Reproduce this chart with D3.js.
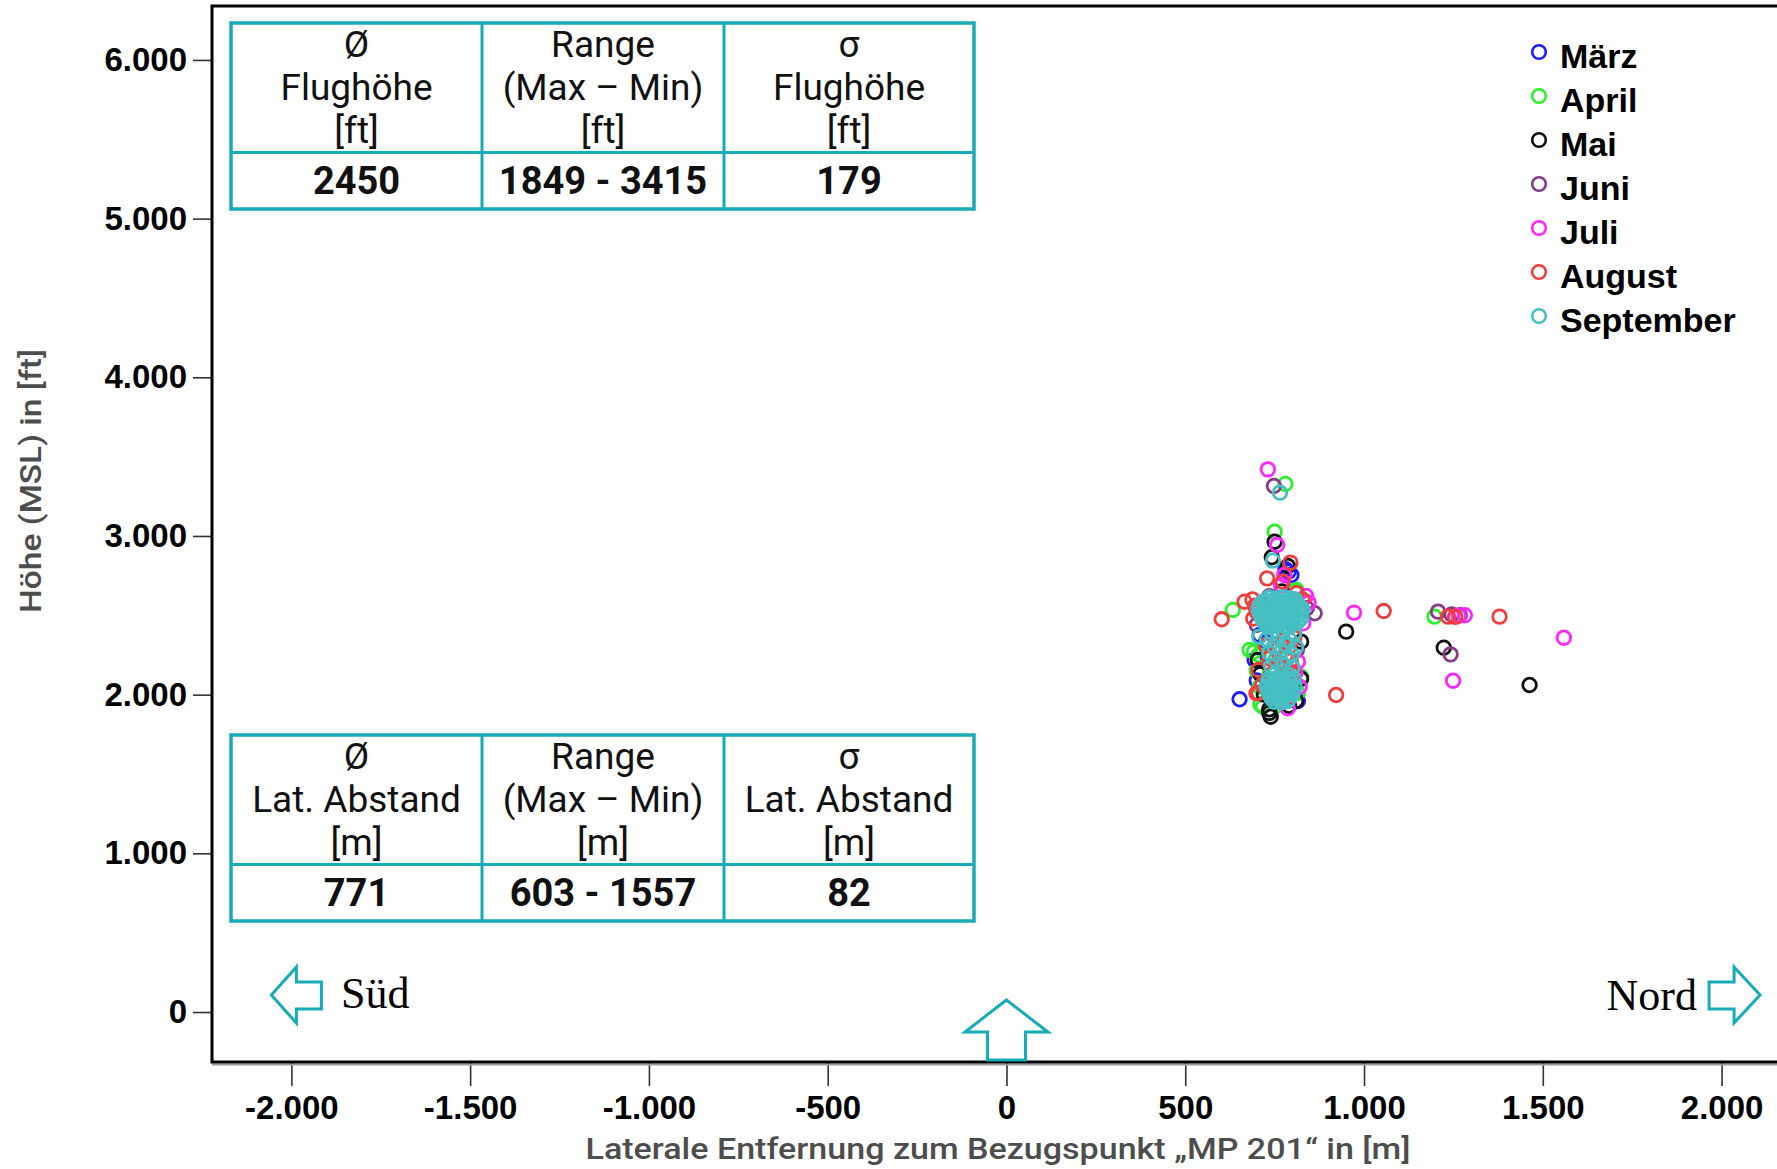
<!DOCTYPE html>
<html>
<head>
<meta charset="utf-8">
<script src="https://cdn.jsdelivr.net/npm/d3@7"></script>
<style>
	body { margin: 0; background: #fff; }
	svg { display: block; }
</style>
</head>
<body>
<div id="chart"></div>
<script>
// Months and their marker colours
const months = ["März", "April", "Mai", "Juni", "Juli", "August", "September"];
const monthColors = ["#1c1cff", "#2cf02c", "#111111", "#843a84", "#ff26ff", "#f03e3e", "#46bfc3"];

// [lateral distance in m, height in ft]
const maerz = [
	[652, 1971], [789, 2775], [708, 2376], [694, 2219], [806, 2061], [797, 2754],
	[725, 2330], [815, 1960], [700, 2090], [780, 2790]
];
const april = [
	[780, 3328], [750, 3027], [806, 2649], [633, 2534], [1197, 2492], [717, 1924],
	[680, 2282], [692, 2270], [824, 2113], [708, 2050], [710, 1940], [811, 2660],
	[700, 2150], [815, 2010], [705, 2250], [760, 1935]
];
const mai = [
	[750, 2964], [742, 2866], [787, 2811], [950, 2397], [1223, 2296], [1463, 2061],
	[739, 1861], [735, 1908], [703, 2219], [824, 2334], [824, 2100], [735, 1885],
	[790, 1930], [770, 2650], [720, 2000], [710, 2130], [810, 1960], [725, 2560]
];
const juni = [
	[748, 3315], [862, 2513], [1207, 2523], [1245, 2505], [1268, 2500], [1242, 2254],
	[840, 2545], [735, 2620], [700, 2440], [812, 2280]
];
const juli = [
	[731, 3420], [757, 2943], [768, 2691], [838, 2622], [845, 2580], [972, 2517],
	[1265, 2497], [1282, 2500], [1559, 2359], [1249, 2088], [787, 1914], [815, 2208],
	[820, 2050], [808, 2140], [830, 2450], [777, 2754]
];
const august = [
	[729, 2733], [794, 2832], [773, 2712], [666, 2586], [602, 2475], [1055, 2527],
	[1235, 2492], [1255, 2490], [1379, 2492], [922, 1998], [705, 2155],
	[688, 2600], [695, 2560], [700, 2520], [690, 2480], [812, 2640], [828, 2600],
	[745, 2380], [770, 2340], [790, 2300], [755, 2280], [780, 2245], [760, 2205],
	[795, 2215], [735, 2230], [775, 2170], [750, 2150], [800, 2130], [725, 2310],
	[805, 2360], [715, 2060], [760, 2040], [740, 1990], [790, 1985], [705, 2010],
	[780, 2080], [699, 2009]
];
const september = [
	[765, 3273], [745, 2845], [707, 2365],
	[735, 2612], [752, 2606], [771, 2614], [790, 2608], [806, 2602],
	[716, 2584], [730, 2590], [746, 2582], [762, 2588], [778, 2583], [795, 2590], [812, 2581],
	[708, 2560], [722, 2556], [738, 2563], [755, 2558], [770, 2562], [787, 2555], [803, 2561], [820, 2556],
	[705, 2535], [720, 2532], [734, 2538], [750, 2534], [766, 2537], [783, 2531], [798, 2536], [815, 2533], [828, 2538],
	[710, 2510], [724, 2507], [741, 2512], [757, 2508], [773, 2513], [789, 2506], [806, 2511], [822, 2508],
	[714, 2486], [729, 2482], [745, 2488], [761, 2483], [778, 2487], [794, 2481], [810, 2486], [825, 2483],
	[720, 2460], [736, 2457], [752, 2463], [768, 2458], [784, 2462], [800, 2456], [815, 2461],
	[732, 2436], [748, 2433], [764, 2438], [781, 2432], [797, 2437],
	[742, 2395], [775, 2402], [805, 2390], [728, 2350], [760, 2360], [792, 2345],
	[748, 2305], [780, 2315], [810, 2300], [735, 2262], [768, 2270], [798, 2255],
	[752, 2220], [785, 2228], [740, 2180], [772, 2188], [800, 2172],
	[748, 2125], [770, 2128], [790, 2122],
	[735, 2100], [752, 2097], [770, 2103], [788, 2098], [803, 2101],
	[730, 2075], [745, 2072], [762, 2078], [780, 2073], [797, 2077],
	[728, 2050], [744, 2047], [760, 2053], [776, 2048], [792, 2052], [806, 2046],
	[732, 2025], [748, 2022], [765, 2028], [781, 2023], [798, 2027],
	[736, 2000], [752, 1997], [768, 2003], [784, 1998], [800, 2002],
	[742, 1975], [758, 1972], [774, 1978], [790, 1973],
	[750, 1955], [768, 1952], [785, 1958]
];
const series = [maerz, april, mai, juni, juli, august, september];

// Tick values
const xTicks = [-2000, -1500, -1000, -500, 0, 500, 1000, 1500, 2000];
const yTicks = [0, 1000, 2000, 3000, 4000, 5000, 6000];

// Statistic tables
const heightHeaders = [["Ø", "Flughöhe", "[ft]"], ["Range", "(Max – Min)", "[ft]"], ["σ", "Flughöhe", "[ft]"]];
const heightValues = ["2450", "1849 - 3415", "179"];
const distHeaders = [["Ø", "Lat. Abstand", "[m]"], ["Range", "(Max – Min)", "[m]"], ["σ", "Lat. Abstand", "[m]"]];
const distValues = ["771", "603 - 1557", "82"];

const width = 1777;
const height = 1169;
const teal = "#17abb8";

const de = d3.formatLocale({ decimal: ",", thousands: ".", grouping: [3], currency: ["", "€"], minus: "-" });
const fmt = de.format(",");

const x = d3.scaleLinear().domain([-2222, 2155]).range([212, 1777]);
const y = d3.scaleLinear().domain([-315, 6340]).range([1062, 6]);

const svg = d3
	.select("#chart")
	.append("svg")
	.attr("width", width)
	.attr("height", height);

// Axes
const xAxis = svg
	.append("g")
	.attr("transform", `translate(0,${y.range()[0]})`)
	.call(d3.axisBottom(x).tickValues(xTicks).tickFormat(fmt).tickSize(24).tickPadding(10).tickSizeOuter(0));
const yAxis = svg
	.append("g")
	.attr("transform", `translate(${x.range()[0]},0)`)
	.call(d3.axisLeft(y).tickValues(yTicks).tickFormat(fmt).tickSize(19).tickPadding(6).tickSizeOuter(0));

[xAxis, yAxis].forEach((g) => {
	g.select(".domain").remove();
	g.selectAll(".tick line").attr("stroke", "#333").attr("stroke-width", 1.6);
	g.selectAll(".tick text")
		.attr("fill", "#000")
		.style("font-family", "'Liberation Sans', Arial, sans-serif")
		.style("font-weight", "bold")
		.style("font-size", "33px");
});

// Frame
const x0 = x.range()[0], x1 = x.range()[1];
const yb = y.range()[0], yt = y.range()[1];
svg.append("line").attr("x1", x0).attr("x2", x1).attr("y1", yb + 2.5).attr("y2", yb + 2.5)
	.attr("stroke", "#9a9a9a").attr("stroke-width", 2);
svg.append("path")
	.attr("d", `M${x1},${yt}H${x0}V${yb}H${x1}`)
	.attr("fill", "none")
	.attr("stroke", "#000")
	.attr("stroke-width", 3);

// Points
series.forEach((data, i) => {
	svg.append("g")
		.selectAll("circle")
		.data(data)
		.enter()
		.append("circle")
		.attr("cx", (d) => x(d[0]))
		.attr("cy", (d) => y(d[1]))
		.attr("r", 6.8)
		.attr("fill", "none")
		.attr("stroke", monthColors[i])
		.attr("stroke-width", 2.8);
});

// Legend
const legend = svg.append("g").attr("transform", "translate(1539,52)");
const items = legend
	.selectAll("g")
	.data(months)
	.enter()
	.append("g")
	.attr("transform", (d, i) => `translate(0,${i * 44})`);
items.append("circle")
	.attr("r", 6.8)
	.attr("fill", "none")
	.attr("stroke", (d, i) => monthColors[i])
	.attr("stroke-width", 2.6);
items.append("text")
	.attr("x", 21)
	.attr("y", 16)
	.style("font-family", "'Liberation Sans', Arial, sans-serif")
	.style("font-weight", "bold")
	.style("font-size", "34px")
	.text((d) => d);

// Tables
const colX = [231, 482, 724, 974];
function drawTable(top, headers, values) {
	const g = svg.append("g").attr("transform", `translate(0,${top})`);
	g.append("rect")
		.attr("x", colX[0]).attr("y", 0)
		.attr("width", colX[3] - colX[0]).attr("height", 186)
		.attr("fill", "#fff").attr("stroke", teal).attr("stroke-width", 3.5);
	g.append("line").attr("x1", colX[0]).attr("x2", colX[3]).attr("y1", 129.5).attr("y2", 129.5)
		.attr("stroke", teal).attr("stroke-width", 3);
	[1, 2].forEach((c) => {
		g.append("line").attr("x1", colX[c]).attr("x2", colX[c]).attr("y1", 0).attr("y2", 186)
			.attr("stroke", teal).attr("stroke-width", 3);
	});
	headers.forEach((lines, c) => {
		const cx = (colX[c] + colX[c + 1]) / 2;
		lines.forEach((t, j) => {
			g.append("text")
				.attr("x", cx).attr("y", 34 + j * 43)
				.attr("text-anchor", "middle")
				.style("font-family", "Roboto, 'Noto Sans', sans-serif")
				.style("font-size", "37px")
				.attr("fill", "#111")
				.text(t);
		});
		g.append("text")
			.attr("x", cx).attr("y", 171)
			.attr("text-anchor", "middle")
			.style("font-family", "Roboto, 'Noto Sans', sans-serif")
			.style("font-weight", "bold")
			.style("font-size", "38px")
			.attr("fill", "#111")
			.text(values[c]);
	});
}
drawTable(23, heightHeaders, heightValues);
drawTable(735, distHeaders, distValues);

// Direction arrows
const arrowStyle = (sel) => sel.attr("fill", "#fff").attr("stroke", teal).attr("stroke-width", 3).attr("stroke-linejoin", "miter");
const ay = y(0) - 17;
const sx = x(-2000) - 20;
svg.append("path")
	.attr("d", `M${sx},${ay}L${sx + 25},${ay - 28}V${ay - 13}H${sx + 50}V${ay + 14}H${sx + 25}V${ay + 28}Z`)
	.call(arrowStyle);
const nx = x(2000) + 38.5;
svg.append("path")
	.attr("d", `M${nx},${ay}L${nx - 26},${ay - 28}V${ay - 13}H${nx - 51}V${ay + 14}H${nx - 26}V${ay + 28}Z`)
	.call(arrowStyle);
const ux = x(0), ub = yb - 2;
svg.append("path")
	.attr("d", `M${ux},${ub - 60}L${ux + 41.5},${ub - 28}H${ux + 19}V${ub}H${ux - 19}V${ub - 28}H${ux - 41.5}Z`)
	.call(arrowStyle);

svg.append("text")
	.attr("x", 341).attr("y", 1008)
	.style("font-family", "'Liberation Serif', 'Times New Roman', serif")
	.style("font-size", "44px")
	.text("Süd");
svg.append("text")
	.attr("x", 1697).attr("y", 1010)
	.attr("text-anchor", "end")
	.style("font-family", "'Liberation Serif', 'Times New Roman', serif")
	.style("font-size", "44px")
	.text("Nord");

// Axis titles
svg.append("text")
	.attr("x", 998).attr("y", 1159)
	.attr("text-anchor", "middle")
	.attr("textLength", 825)
	.attr("lengthAdjust", "spacingAndGlyphs")
	.style("font-family", "Roboto, 'Noto Sans', sans-serif")
	.style("font-weight", 500)
	.style("font-size", "30px")
	.attr("fill", "#4d4d4d")
	.text("Laterale Entfernung zum Bezugspunkt „MP 201“ in [m]");
svg.append("text")
	.attr("transform", "translate(41,481) rotate(-90)")
	.attr("text-anchor", "middle")
	.attr("textLength", 264)
	.attr("lengthAdjust", "spacingAndGlyphs")
	.style("font-family", "Roboto, 'Noto Sans', sans-serif")
	.style("font-weight", 500)
	.style("font-size", "29px")
	.attr("fill", "#4d4d4d")
	.text("Höhe (MSL) in [ft]");
</script>
</body>
</html>
